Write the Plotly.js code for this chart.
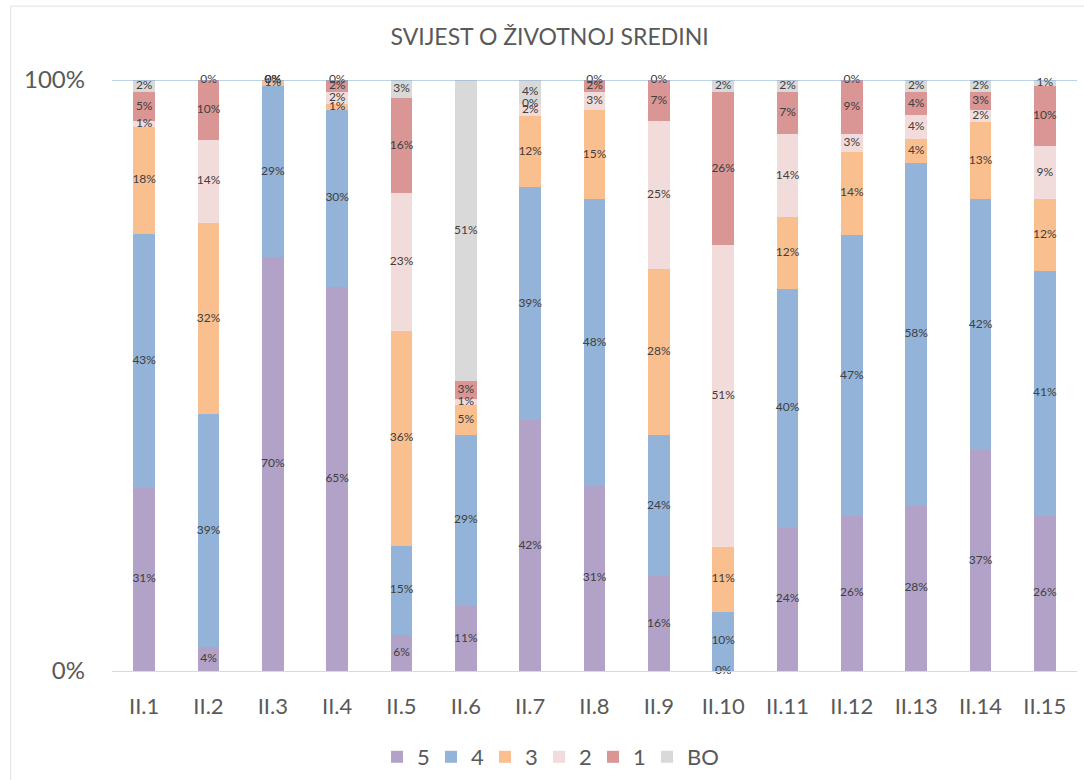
<!DOCTYPE html>
<html>
<head>
<meta charset="utf-8">
<script src="https://cdn.plot.ly/plotly-3.0.1.min.js"></script>
<style>html,body{margin:0;padding:0;background:#fff;}#chart{width:1084px;height:780px;}</style>
</head>
<body>
<div id="chart"></div>
<script>
const categories = ["II.1","II.2","II.3","II.4","II.5","II.6","II.7","II.8","II.9","II.10","II.11","II.12","II.13","II.14","II.15"];
const seriesNames = ["5","4","3","2","1","BO"];
const s5  = [31, 4, 70, 65,  6, 11, 42, 31, 16,  0, 24, 26, 28, 37, 26];
const s4  = [43,39, 29, 30, 15, 29, 39, 48, 24, 10, 40, 47, 58, 42, 41];
const s3  = [18,32,  1,  1, 36,  5, 12, 15, 28, 11, 12, 14,  4, 13, 12];
const s2  = [ 1,14,  0,  2, 23,  1,  2,  3, 25, 51, 14,  3,  4,  2,  9];
const s1  = [ 5,10,  0,  2, 16,  3,  0,  2,  7, 26,  7,  9,  4,  3, 10];
const sBO = [ 2, 0,  0,  0,  3, 51,  4,  0,  0,  2,  2,  0,  2,  2,  1];
const colors = ["#B2A2C8","#93B3D8","#F9BF8E","#F2DCDB","#D99694","#D9D9D9"];

const allSeries = [s5,s4,s3,s2,s1,sBO];
const font = "Lato, 'Open Sans', sans-serif";

const traces = allSeries.map((vals, k) => ({
  type: "bar",
  name: seriesNames[k],
  x: categories,
  y: vals,
  legend: k === 5 ? "legend2" : "legend",
  marker: {color: colors[k], line: {width: 0}},
  hoverinfo: "x+y+name"
}));

// data labels at segment midpoints (normalized like the 100% stack)
const lx = [], ly = [], lt = [];
categories.forEach((c, i) => {
  const total = allSeries.reduce((a, s) => a + s[i], 0);
  let cum = 0;
  allSeries.forEach(s => {
    const v = s[i];
    lx.push(c);
    ly.push((cum + v / 2) / total * 100);
    lt.push(v + "%");
    cum += v;
  });
});
traces.push({
  type: "scatter", mode: "text", x: lx, y: ly, text: lt,
  textposition: "middle center",
  textfont: {family: font, size: 12, color: "#404040"},
  showlegend: false, hoverinfo: "skip", cliponaxis: false
});

const legFont = {family: font, size: 22, color: "#595959"};
const legY = 1 - 757 / 780;
const legX = 377 / 1084;

const layout = {
  width: 1084, height: 780,
  margin: {l: 112, r: 7, t: 80, b: 109},
  paper_bgcolor: "#fff", plot_bgcolor: "#fff",
  barmode: "stack", barnorm: "percent", bargap: 0.66,
  title: {text: "SVIJEST O ŽIVOTNOJ SREDINI", x: 0.507, xref: "container", y: 0.953, yref: "container", yanchor: "middle",
          font: {family: font, size: 23, color: "#595959"}},
  xaxis: {type: "category", range: [-0.5, categories.length - 0.5], automargin: false, showgrid: false, zeroline: false,
          showline: true, linecolor: "#D9D9D9", linewidth: 1,
          tickfont: {family: font, size: 22, color: "#595959"}, ticks: "", ticklabelstandoff: 16},
  yaxis: {range: [0, 100], automargin: false, tickvals: [0, 100], ticktext: ["0%", "100%"], showgrid: false, zeroline: false,
          showline: false, tickfont: {family: font, size: 24, color: "#595959"}, ticks: "", ticklabelstandoff: 26},
  legend: {orientation: "h", xref: "container", yref: "container", x: legX, xanchor: "left", y: legY, yanchor: "middle",
           font: legFont, traceorder: "normal", itemwidth: 30, entrywidth: 9},
  legend2: {orientation: "h", xref: "container", yref: "container", x: legX + 5 * 54 / 1084, xanchor: "left", y: legY, yanchor: "middle",
           font: legFont, itemwidth: 30},
  shapes: [
    {type: "line", xref: "paper", yref: "y", x0: 0, x1: 1, y0: 100, y1: 100, line: {color: "#7FA6D1", width: 1}},
    {type: "line", xref: "paper", yref: "paper", x0: -0.105, x1: 1.01, y0: 1.125, y1: 1.125, line: {color: "#E0E0E0", width: 1}},
    {type: "line", xref: "paper", yref: "paper", x0: -0.105, x1: -0.105, y0: 1.125, y1: -0.2, line: {color: "#E0E0E0", width: 1}}
  ],
  showlegend: true
};

Plotly.newPlot("chart", traces, layout, {displayModeBar: false, staticPlot: true});
</script>
</body>
</html>
